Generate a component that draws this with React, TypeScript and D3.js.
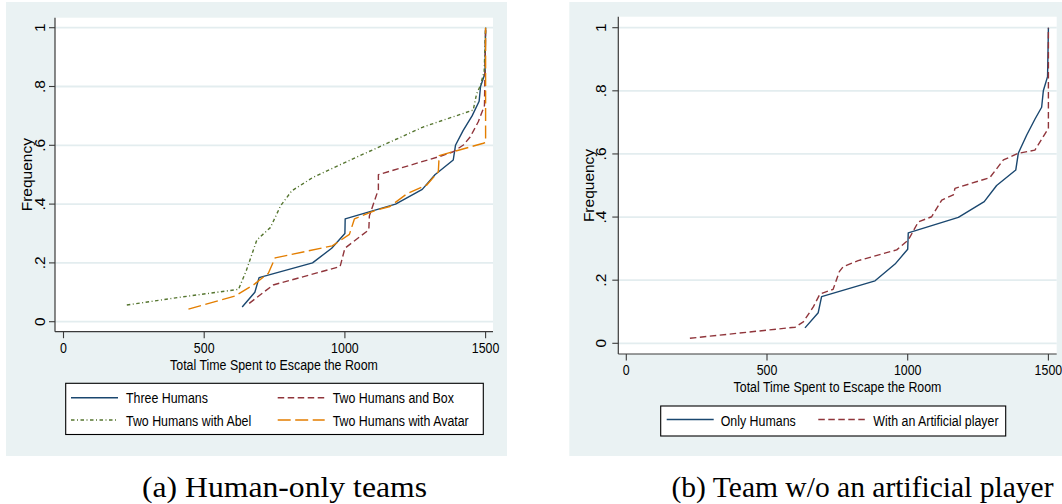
import React from "react";
import * as d3 from "d3";

// ---------- data ----------
const xTicks = [0, 500, 1000, 1500];
const yTicks = [0, 0.2, 0.4, 0.6, 0.8, 1];
const yTickLabels = ["0", ".2", ".4", ".6", ".8", "1"];

const threeHumans: [number, number][] = [
  [635, 0.05], [680, 0.1], [695, 0.15], [885, 0.2], [953, 0.25], [1000, 0.3],
  [1001, 0.35], [1180, 0.4], [1275, 0.45], [1320, 0.5], [1385, 0.55], [1393, 0.6],
  [1420, 0.65], [1452, 0.7], [1477, 0.75], [1482, 0.8], [1498, 0.845], [1500, 1.0],
];
const twoHumansBox: [number, number][] = [
  [660, 0.0625], [745, 0.125], [983, 0.1875], [1000, 0.25], [1085, 0.3125],
  [1087, 0.36], [1119, 0.45], [1119, 0.5], [1338, 0.5625], [1385, 0.578],
  [1421, 0.601], [1445, 0.628], [1474, 0.68], [1496, 0.735], [1500, 1.0],
];
const twoHumansAbel: [number, number][] = [
  [225, 0.057], [420, 0.084], [622, 0.11], [650, 0.175], [687, 0.278], [735, 0.32],
  [772, 0.395], [811, 0.445], [885, 0.49], [985, 0.535], [1100, 0.585], [1280, 0.663],
  [1456, 0.72], [1468, 0.775], [1480, 0.8], [1495, 0.85], [1500, 1.0],
];
const twoHumansAvatar: [number, number][] = [
  [444, 0.043], [609, 0.087], [675, 0.125], [728, 0.165], [752, 0.217], [955, 0.258],
  [1016, 0.297], [1034, 0.35], [1107, 0.378], [1160, 0.392], [1220, 0.435],
  [1291, 0.465], [1332, 0.51], [1335, 0.565], [1492, 0.607], [1500, 0.61], [1500, 1.0],
];
const onlyHumans: [number, number][] = [
  [635, 0.049], [682, 0.097], [694, 0.148], [884, 0.198], [955, 0.251], [1000, 0.298],
  [1002, 0.35], [1180, 0.399], [1272, 0.449], [1316, 0.5], [1384, 0.549], [1393, 0.602],
  [1423, 0.66], [1452, 0.71], [1476, 0.748], [1482, 0.8], [1497, 0.845], [1500, 1.0],
];
const withArtificial: [number, number][] = [
  [226, 0.016], [600, 0.051], [629, 0.068], [665, 0.116], [688, 0.156], [735, 0.171],
  [757, 0.227], [771, 0.243], [824, 0.262], [961, 0.296], [1002, 0.327], [1038, 0.385],
  [1085, 0.401], [1121, 0.454], [1162, 0.47], [1168, 0.491], [1292, 0.525], [1340, 0.581],
  [1393, 0.602], [1452, 0.612], [1500, 0.681], [1500, 1.0],
];

const captionA = "(a) Human-only teams";
const captionB = "(b) Team w/o an artificial player";
const xTitle = "Total Time Spent to Escape the Room";
const yTitle = "Frequency";

// ---------- styles ----------
const NAVY = "#1a476f";
const MAROON = "#90353b";
const GREEN = "#55752f";
const ORANGE = "#e37e00";
const BG = "#eaf2f3";
const GRID = "#e3edef";
const AXIS = "#3a3a3a";
const SANS = "'Liberation Sans', Arial, Helvetica, sans-serif";
const SERIF = "'Liberation Serif', 'Times New Roman', serif";
const FS = 15.5;
const SX = 0.8;

type Series = { name: string; data: [number, number][]; color: string; dash: string };

const seriesA: Series[] = [
  { name: "Three Humans", data: threeHumans, color: NAVY, dash: "" },
  { name: "Two Humans and Box", data: twoHumansBox, color: MAROON, dash: "6.5,3.5" },
  { name: "Two Humans with Abel", data: twoHumansAbel, color: GREEN, dash: "3.5,2.5,1,2.5" },
  { name: "Two Humans with Avatar", data: twoHumansAvatar, color: ORANGE, dash: "13,4.5" },
];
const seriesB: Series[] = [
  { name: "Only Humans", data: onlyHumans, color: NAVY, dash: "" },
  { name: "With an Artificial player", data: withArtificial, color: MAROON, dash: "6.5,3.5" },
];

function HText(props: { x: number; y: number; anchor?: string; children: React.ReactNode }) {
  const { x, y, anchor = "start", children } = props;
  return (
    <text
      transform={`translate(${x},${y}) scale(${SX},1)`}
      textAnchor={anchor}
      fontFamily={SANS}
      fontSize={FS}
      fill="#000"
    >
      {children}
    </text>
  );
}

type Layout = {
  bg: [number, number, number, number];
  plot: [number, number, number, number];
  xr: [number, number];
  yr: [number, number];
  yLabX: number;
  yTitleX: number;
  xLabY: number;
  xTitleY: number;
  legend: { box: [number, number, number, number]; items: { sx: number; tx: number; ly: number; ty: number }[] };
  caption: { x: number; y: number; len: number; text: string };
};

const layoutA: Layout = {
  bg: [6, 2, 507, 456],
  plot: [55, 17.7, 493, 331.7],
  xr: [63.5, 485.6],
  yr: [321.7, 27.7],
  yLabX: 45.3,
  yTitleX: 31.7,
  xLabY: 352.7,
  xTitleY: 370.3,
  legend: {
    box: [65.7, 383.3, 483.3, 434.5],
    items: [
      { sx: 71, tx: 126, ly: 397.7, ty: 403.3 },
      { sx: 277.7, tx: 332.7, ly: 397.7, ty: 403.3 },
      { sx: 71, tx: 126, ly: 420, ty: 425.7 },
      { sx: 277.7, tx: 332.7, ly: 420, ty: 425.7 },
    ],
  },
  caption: { x: 284.5, y: 496.5, len: 285, text: captionA },
};

const layoutB: Layout = {
  bg: [569.3, 2, 1062, 456],
  plot: [618.3, 16.7, 1056.7, 354],
  xr: [626.3, 1048.4],
  yr: [343.3, 27.7],
  yLabX: 606.3,
  yTitleX: 593.5,
  xLabY: 375,
  xTitleY: 392,
  legend: {
    box: [660.7, 406, 1005.7, 436],
    items: [
      { sx: 666.7, tx: 720.7, ly: 419.5, ty: 426.3 },
      { sx: 818.3, tx: 873.3, ly: 419.5, ty: 426.3 },
    ],
  },
  caption: { x: 862.5, y: 496.5, len: 382, text: captionB },
};

// legend order for panel A is: Three Humans, Two Humans and Box, Abel, Avatar
function Panel({ layout, series }: { layout: Layout; series: Series[] }) {
  const x = d3.scaleLinear().domain([0, 1500]).range(layout.xr);
  const y = d3.scaleLinear().domain([0, 1]).range(layout.yr);
  const line = d3
    .line<[number, number]>()
    .x((d) => x(d[0]))
    .y((d) => y(d[1]));
  const [bx0, by0, bx1, by1] = layout.bg;
  const [px0, py0, px1, py1] = layout.plot;
  const [lx0, ly0, lx1, ly1] = layout.legend.box;
  const cy = (layout.yr[0] + layout.yr[1]) / 2;
  const cx = (px0 + px1) / 2;
  return (
    <g>
      <rect x={bx0} y={by0} width={bx1 - bx0} height={by1 - by0} fill={BG} />
      <rect x={px0} y={py0} width={px1 - px0} height={py1 - py0} fill="#fff" />
      {yTicks.map((t) => (
        <line key={"g" + t} x1={px0} x2={px1} y1={y(t)} y2={y(t)} stroke={GRID} strokeWidth={1.8} />
      ))}
      {series.map((s) => (
        <path
          key={s.name}
          d={line(s.data) || ""}
          fill="none"
          stroke={s.color}
          strokeWidth={1.4}
          strokeDasharray={s.dash || undefined}
          strokeLinejoin="round"
        />
      ))}
      {/* axes */}
      <line x1={px0} x2={px0} y1={py0} y2={py1} stroke={AXIS} strokeWidth={1.2} />
      <line x1={px0} x2={px1} y1={py1} y2={py1} stroke={AXIS} strokeWidth={1.2} />
      {yTicks.map((t, i) => (
        <g key={"yt" + t}>
          <line x1={px0 - 6} x2={px0} y1={y(t)} y2={y(t)} stroke={AXIS} strokeWidth={1.1} />
          <text
            transform={`translate(${layout.yLabX},${y(t)}) rotate(-90)`}
            textAnchor="middle"
            fontFamily={SANS}
            fontSize={FS}
          >
            {yTickLabels[i]}
          </text>
        </g>
      ))}
      {xTicks.map((t) => (
        <g key={"xt" + t}>
          <line x1={x(t)} x2={x(t)} y1={py1} y2={py1 + 6.5} stroke={AXIS} strokeWidth={1.1} />
          <HText x={x(t)} y={layout.xLabY} anchor="middle">
            {String(t)}
          </HText>
        </g>
      ))}
      <text
        transform={`translate(${layout.yTitleX},${cy}) rotate(-90)`}
        textAnchor="middle"
        fontFamily={SANS}
        fontSize={FS}
      >
        {yTitle}
      </text>
      <HText x={cx} y={layout.xTitleY} anchor="middle">
        {xTitle}
      </HText>
      {/* legend */}
      <rect x={lx0} y={ly0} width={lx1 - lx0} height={ly1 - ly0} fill="#fff" stroke="#000" strokeWidth={1.1} />
      {series.map((s, i) => {
        const it = layout.legend.items[i];
        return (
          <g key={"lg" + s.name}>
            <line
              x1={it.sx}
              x2={it.sx + 47}
              y1={it.ly}
              y2={it.ly}
              stroke={s.color}
              strokeWidth={1.4}
              strokeDasharray={s.dash || undefined}
            />
            <HText x={it.tx} y={it.ty}>
              {s.name}
            </HText>
          </g>
        );
      })}
      <text
        x={layout.caption.x}
        y={layout.caption.y}
        textAnchor="middle"
        fontFamily={SERIF}
        fontSize={29}
        textLength={layout.caption.len}
        lengthAdjust="spacingAndGlyphs"
        fill="#000"
      >
        {layout.caption.text}
      </text>
    </g>
  );
}

export default function App() {
  return (
    <svg
      width={1062}
      height={504}
      viewBox="0 0 1062 504"
      style={{ position: "absolute", left: 0, top: 0, background: "#fff" }}
    >
      <rect x={0} y={0} width={1062} height={504} fill="#fff" />
      <Panel layout={layoutA} series={seriesA} />
      <Panel layout={layoutB} series={seriesB} />
    </svg>
  );
}
